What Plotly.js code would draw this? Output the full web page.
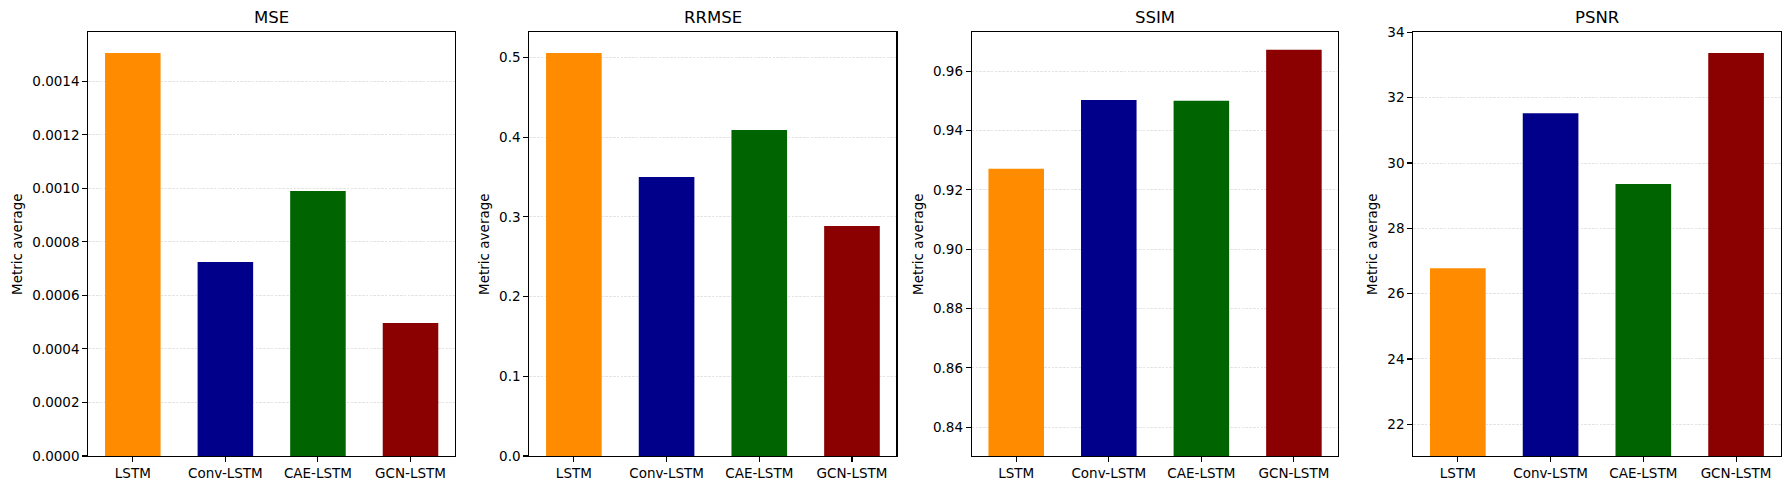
<!DOCTYPE html>
<html>
<head>
<meta charset="utf-8">
<script src="https://cdn.plot.ly/plotly-3.0.1.min.js"></script>
<style>
  html, body { margin: 0; padding: 0; background: #fff; }
  #chart { width: 1789px; height: 490px; }
</style>
</head>
<body>
<div id="chart"></div>
<script>
// models shown in each panel
const models = ['LSTM', 'Conv-LSTM', 'CAE-LSTM', 'GCN-LSTM'];
const barColors = ['#ff8c00', '#00008b', '#006400', '#8b0000'];

// metric averages
const metricNames = ['MSE', 'RRMSE', 'SSIM', 'PSNR'];
const mseValues = [0.001506, 0.000725, 0.00099, 0.000497];
const rrmseValues = [0.5055, 0.3499, 0.4089, 0.2885];
const ssimValues = [0.9271, 0.9503, 0.9500, 0.9672];
const psnrValues = [26.78, 31.52, 29.36, 33.37];

// axis settings per panel
const yRanges = [[0, 0.001583], [0, 0.5314], [0.8303, 0.9731], [21.03, 34]];
const yDticks = [0.0002, 0.1, 0.02, 2];
const yFormats = ['.4f', '.1f', '.2f', 'd'];
const xDomains = [[0.0494, 0.2543], [0.2959, 0.5011], [0.5432, 0.7481], [0.79, 0.9953]];
const yDomain = [0.0694, 0.934];

const allValues = [mseValues, rrmseValues, ssimValues, psnrValues];
const font = { family: 'DejaVu Sans', size: 13.5, color: '#000' };

// one bar trace per panel
const data = allValues.map((vals, i) => ({
    type: 'bar',
    x: models,
    y: vals,
    width: 0.6,
    marker: { color: barColors, line: { width: 0 } },
    xaxis: i === 0 ? 'x' : 'x' + (i + 1),
    yaxis: i === 0 ? 'y' : 'y' + (i + 1),
    hoverinfo: 'x+y'
}));

const layout = {
    width: 1789,
    height: 490,
    margin: { l: 0, r: 0, t: 0, b: 0 },
    paper_bgcolor: '#fff',
    plot_bgcolor: '#fff',
    showlegend: false,
    font: font,
    annotations: []
};

metricNames.forEach((name, i) => {
    const sfx = i === 0 ? '' : String(i + 1);
    layout['xaxis' + sfx] = {
        domain: xDomains[i],
        anchor: 'y' + sfx,
        type: 'category',
        range: [-0.48, 3.48],
        showline: true,
        mirror: true,
        linecolor: '#000',
        linewidth: 1.1,
        ticks: 'outside',
        ticklen: 5,
        tickwidth: 1.1,
        tickcolor: '#000',
        showgrid: false,
        zeroline: false,
        tickfont: font
    };
    layout['yaxis' + sfx] = {
        domain: yDomain,
        anchor: 'x' + sfx,
        range: yRanges[i],
        dtick: yDticks[i],
        tick0: 0,
        tickformat: yFormats[i],
        showline: true,
        mirror: true,
        linecolor: '#000',
        linewidth: 1.1,
        ticks: 'outside',
        ticklen: 5,
        tickwidth: 1.1,
        tickcolor: '#000',
        showgrid: true,
        gridcolor: '#d9d9d9',
        gridwidth: 0.7,
        griddash: '2.6px,1.2px',
        zeroline: false,
        tickfont: font,
        title: { text: 'Metric average', font: font, standoff: 6 }
    };
    // panel title
    layout.annotations.push({
        text: name,
        xref: 'paper',
        yref: 'paper',
        x: (xDomains[i][0] + xDomains[i][1]) / 2,
        y: 1 - 17.7 / 490,
        xanchor: 'center',
        yanchor: 'middle',
        showarrow: false,
        font: { family: 'DejaVu Sans', size: 16.5, color: '#000' }
    });
});

Plotly.newPlot('chart', data, layout, { displayModeBar: false, staticPlot: true });
</script>
</body>
</html>
